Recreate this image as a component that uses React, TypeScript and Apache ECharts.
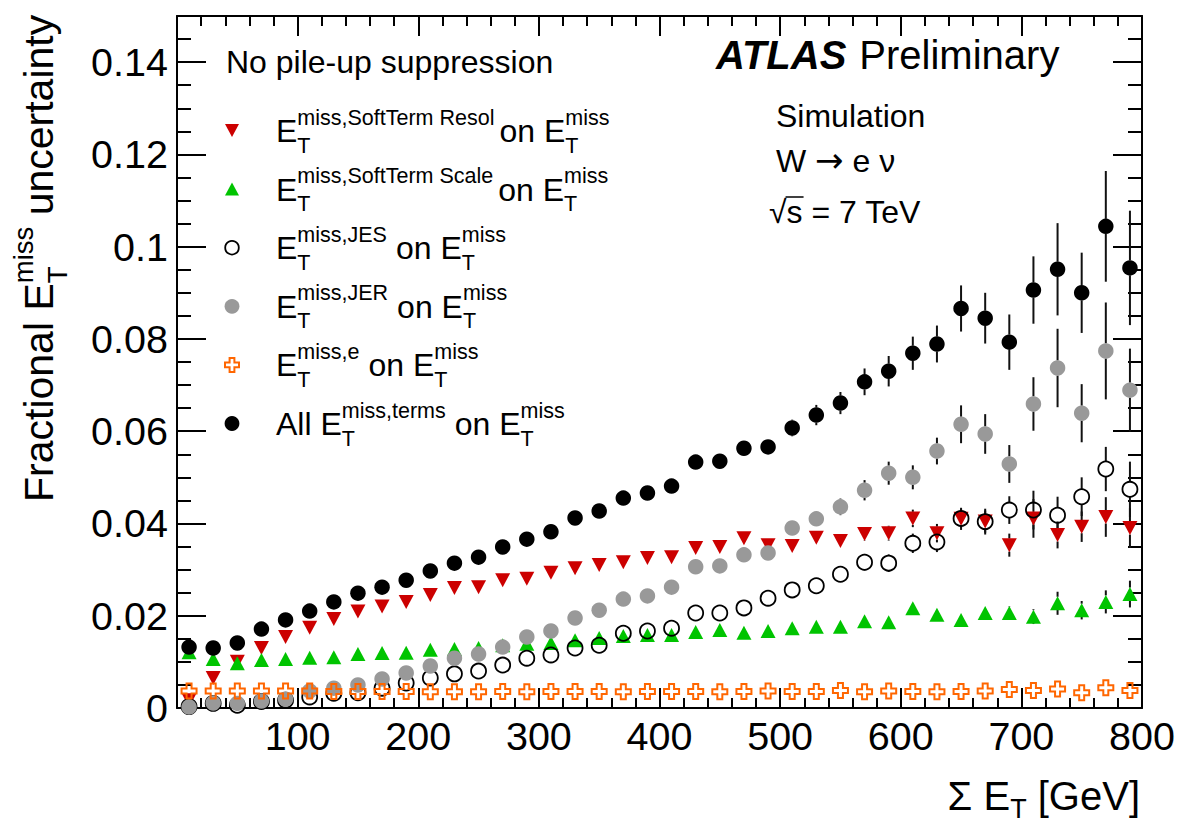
import React, { useEffect, useRef } from 'react';
import * as echarts from 'echarts';

// ---------- data ----------
const sumEt = [10, 30, 50, 70, 90, 110, 130, 150, 170, 190, 210, 230, 250, 270, 290, 310, 330, 350, 370, 390,
  410, 430, 450, 470, 490, 510, 530, 550, 570, 590, 610, 630, 650, 670, 690, 710, 730, 750, 770, 790];

const softResol = [0.0017, 0.0065, 0.0100, 0.0130, 0.0154, 0.0174, 0.0193, 0.0209, 0.0220, 0.0230,
  0.0245, 0.0260, 0.0262, 0.0277, 0.0280, 0.0293, 0.0303, 0.0310, 0.0316, 0.0325,
  0.0327, 0.0347, 0.0349, 0.0368, 0.0353, 0.0351, 0.0369, 0.0362, 0.0377, 0.0379,
  0.0411, 0.0379, 0.0410, 0.0404, 0.0353, 0.0411, 0.0375, 0.0393, 0.0414, 0.0390];
const softResolErr = [0.0003, 0.0003, 0.0003, 0.0004, 0.0004, 0.0004, 0.0005, 0.0005, 0.0005, 0.0006,
  0.0006, 0.0006, 0.0007, 0.0007, 0.0007, 0.0008, 0.0008, 0.0008, 0.0009, 0.0009,
  0.0010, 0.0010, 0.0011, 0.0011, 0.0012, 0.0012, 0.0013, 0.0014, 0.0015, 0.0016,
  0.0019, 0.0020, 0.0024, 0.0028, 0.0025, 0.0042, 0.0029, 0.0033, 0.0043, 0.0043];

const softScale = [0.0121, 0.0106, 0.0097, 0.0104, 0.0106, 0.0109, 0.0110, 0.0117, 0.0119, 0.0120,
  0.0126, 0.0128, 0.0130, 0.0136, 0.0139, 0.0141, 0.0147, 0.0152, 0.0156, 0.0158,
  0.0158, 0.0165, 0.0169, 0.0163, 0.0167, 0.0173, 0.0176, 0.0176, 0.0188, 0.0186,
  0.0216, 0.0202, 0.0191, 0.0206, 0.0206, 0.0198, 0.0227, 0.0212, 0.0230, 0.0247];
const softScaleErr = [0.0003, 0.0003, 0.0003, 0.0003, 0.0004, 0.0004, 0.0004, 0.0004, 0.0005, 0.0005,
  0.0005, 0.0005, 0.0006, 0.0006, 0.0006, 0.0007, 0.0007, 0.0007, 0.0008, 0.0008,
  0.0008, 0.0009, 0.0009, 0.0010, 0.0010, 0.0010, 0.0011, 0.0011, 0.0012, 0.0012,
  0.0013, 0.0013, 0.0014, 0.0014, 0.0015, 0.0016, 0.0025, 0.0020, 0.0025, 0.0029];

const jes = [0.0003, 0.0010, 0.0006, 0.0014, 0.0017, 0.0024, 0.0032, 0.0033, 0.0043, 0.0054,
  0.0065, 0.0074, 0.0080, 0.0093, 0.0108, 0.0115, 0.0130, 0.0136, 0.0162, 0.0167,
  0.0173, 0.0206, 0.0206, 0.0217, 0.0238, 0.0256, 0.0265, 0.0290, 0.0316, 0.0314,
  0.0357, 0.0360, 0.0411, 0.0404, 0.0429, 0.0429, 0.0418, 0.0458, 0.0518, 0.0474];
const jesErr = [0.0003, 0.0003, 0.0003, 0.0003, 0.0004, 0.0004, 0.0004, 0.0004, 0.0005, 0.0005,
  0.0005, 0.0005, 0.0006, 0.0006, 0.0006, 0.0007, 0.0007, 0.0007, 0.0008, 0.0008,
  0.0009, 0.0010, 0.0010, 0.0011, 0.0012, 0.0013, 0.0014, 0.0016, 0.0018, 0.0019,
  0.0021, 0.0022, 0.0020, 0.0024, 0.0030, 0.0042, 0.0040, 0.0042, 0.0048, 0.0060];

const jer = [0.0002, 0.0011, 0.0010, 0.0015, 0.0019, 0.0037, 0.0043, 0.0050, 0.0063, 0.0076,
  0.0091, 0.0108, 0.0117, 0.0132, 0.0154, 0.0167, 0.0195, 0.0212, 0.0236, 0.0243,
  0.0262, 0.0306, 0.0308, 0.0332, 0.0336, 0.0390, 0.0410, 0.0436, 0.0472, 0.0509,
  0.0500, 0.0557, 0.0615, 0.0594, 0.0529, 0.0659, 0.0737, 0.0639, 0.0774, 0.0689];
const jerErr = [0.0003, 0.0003, 0.0003, 0.0003, 0.0003, 0.0003, 0.0003, 0.0003, 0.0003, 0.0003,
  0.0004, 0.0004, 0.0005, 0.0005, 0.0006, 0.0006, 0.0007, 0.0007, 0.0008, 0.0008,
  0.0009, 0.0010, 0.0010, 0.0011, 0.0012, 0.0013, 0.0015, 0.0018, 0.0022, 0.0025,
  0.0026, 0.0029, 0.0041, 0.0043, 0.0041, 0.0058, 0.0085, 0.0063, 0.0105, 0.0090];

const electron = [0.0037, 0.0037, 0.0037, 0.0037, 0.0037, 0.0037, 0.0036, 0.0036, 0.0036, 0.0036,
  0.0035, 0.0035, 0.0035, 0.0036, 0.0035, 0.0036, 0.0036, 0.0036, 0.0035, 0.0036,
  0.0036, 0.0036, 0.0035, 0.0036, 0.0037, 0.0036, 0.0036, 0.0038, 0.0035, 0.0037,
  0.0036, 0.0035, 0.0036, 0.0037, 0.0040, 0.0038, 0.0041, 0.0033, 0.0044, 0.0038];
const electronErr = [0.0002, 0.0002, 0.0002, 0.0002, 0.0002, 0.0002, 0.0002, 0.0002, 0.0002, 0.0002,
  0.0002, 0.0002, 0.0002, 0.0002, 0.0002, 0.0002, 0.0002, 0.0002, 0.0002, 0.0002,
  0.0002, 0.0002, 0.0002, 0.0002, 0.0002, 0.0002, 0.0002, 0.0002, 0.0002, 0.0002,
  0.0003, 0.0003, 0.0003, 0.0003, 0.0003, 0.0003, 0.0004, 0.0004, 0.0005, 0.0005];

const allTerms = [0.0132, 0.0130, 0.0141, 0.0171, 0.0191, 0.0210, 0.0230, 0.0249, 0.0262, 0.0277,
  0.0297, 0.0314, 0.0327, 0.0349, 0.0366, 0.0382, 0.0412, 0.0427, 0.0455, 0.0466,
  0.0481, 0.0533, 0.0535, 0.0563, 0.0566, 0.0607, 0.0635, 0.0661, 0.0707, 0.0730,
  0.0769, 0.0789, 0.0866, 0.0845, 0.0793, 0.0906, 0.0951, 0.0900, 0.1044, 0.0954];
const allTermsErr = [0.0005, 0.0005, 0.0005, 0.0006, 0.0006, 0.0006, 0.0007, 0.0007, 0.0007, 0.0008,
  0.0008, 0.0008, 0.0009, 0.0009, 0.0010, 0.0010, 0.0010, 0.0011, 0.0011, 0.0012,
  0.0012, 0.0013, 0.0013, 0.0014, 0.0015, 0.0018, 0.0022, 0.0024, 0.0029, 0.0033,
  0.0036, 0.0040, 0.0050, 0.0055, 0.0060, 0.0073, 0.0100, 0.0087, 0.0120, 0.0124];

const xTicks = { min: 0, max: 800, step: 100, minorDiv: 5 };
const yTicks = { min: 0, max: 0.15, step: 0.02, minorDiv: 4 };

const seriesNames = ['SoftTerm Resol', 'SoftTerm Scale', 'JES', 'JER', 'e', 'All terms'];

// ---------- styling ----------
const FONT = '"Liberation Sans", Arial, Helvetica, sans-serif';
const SYMFONT = '"DejaVu Sans", sans-serif';
const RED = '#cc0000';
const GREEN = '#00c400';
const GRAY = '#999999';
const ORANGE = '#ff6600';
const CROSS_PATH = 'path://M5,0H10V5H15V10H10V15H5V10H0V5H5Z';

let measureCtx: CanvasRenderingContext2D | null = null;
function measure(text: string, size: number, weight = 'normal', style = 'normal', family = FONT): number {
  if (!measureCtx) measureCtx = document.createElement('canvas').getContext('2d');
  measureCtx!.font = `${style} ${weight} ${size}px ${family}`;
  return measureCtx!.measureText(text).width;
}

function txt(text: string, x: number, baseline: number, size: number, weight = 'normal', style = 'normal', family = FONT) {
  return {
    type: 'text',
    x,
    y: baseline - 0.3465 * size,
    silent: true,
    style: {
      text,
      font: `${style} ${weight} ${size}px ${family}`,
      fill: '#000',
      align: 'left',
      verticalAlign: 'middle',
    },
  };
}

type Seg = { t?: string; sup?: string; sub?: string; gap?: number; weight?: string; style?: string; size?: number; family?: string; dy?: number };

function row(segs: Seg[], x0: number, baseline: number, big: number, small: number, supDy: number, subDy: number) {
  const els: any[] = [];
  let x = x0;
  for (const s of segs) {
    if (s.gap !== undefined) { x += s.gap; continue; }
    if (s.sup !== undefined || s.sub !== undefined) {
      let w = 0;
      if (s.sup) { els.push(txt(s.sup, x, baseline - supDy, small)); w = Math.max(w, measure(s.sup, small)); }
      if (s.sub) { els.push(txt(s.sub, x, baseline + subDy, small)); w = Math.max(w, measure(s.sub, small)); }
      x += w;
      continue;
    }
    const size = s.size ?? big;
    const fam = s.family ?? FONT;
    els.push(txt(s.t!, x, baseline + (s.dy ?? 0), size, s.weight, s.style, fam));
    x += measure(s.t!, size, s.weight, s.style, fam);
  }
  return { els, width: x - x0 };
}

function buildGraphics() {
  const els: any[] = [];
  // Y axis title (rotated)
  const yt = row([
    { t: 'Fractional ' }, { t: 'E' }, { sup: 'miss', sub: 'T' }, { t: ' uncertainty' },
  ], 0, 0, 41, 27.5, 20, 14);
  els.push({ type: 'group', x: 53, y: 502, rotation: Math.PI / 2, children: yt.els });

  // X axis title, right aligned
  const xtSegs: Seg[] = [{ t: 'Σ E' }, { sub: 'T' }, { t: ' [GeV]' }];
  const xtw = row(xtSegs, 0, 0, 40, 27, 0, 8).width;
  els.push(...row(xtSegs, 1140 - xtw, 810, 40, 27, 0, 8).els);

  // ATLAS Preliminary
  els.push(...row([{ t: 'ATLAS', weight: 'bold', style: 'italic' }, { gap: 13 }, { t: 'Preliminary' }], 716, 69, 40, 27, 0, 0).els);
  els.push(txt('Simulation', 776, 127, 32));
  els.push(...row([{ t: 'W ' }, { t: '→', family: SYMFONT, size: 34 }, { t: ' e ν' }], 776, 172, 32, 20, 0, 0).els);
  const sqW = measure('√', 32);
  const sW = measure('s', 32);
  els.push(txt('√s = 7 TeV', 769, 223, 32));
  els.push({ type: 'line', silent: true, shape: { x1: 769 + sqW - 1, y1: 223 - 26, x2: 769 + sqW + sW + 1, y2: 223 - 26 }, style: { stroke: '#000', lineWidth: 1.5 } });

  // Legend
  els.push(txt('No pile-up suppression', 226, 73, 32));
  const B0 = 142, dB = 58.6, mx = 232;
  const legendRows: Seg[][] = [
    [{ t: 'E' }, { sup: 'miss,SoftTerm Resol', sub: 'T' }, { gap: 5 }, { t: 'on E' }, { sup: 'miss', sub: 'T' }],
    [{ t: 'E' }, { sup: 'miss,SoftTerm Scale', sub: 'T' }, { gap: 5 }, { t: 'on E' }, { sup: 'miss', sub: 'T' }],
    [{ t: 'E' }, { sup: 'miss,JES', sub: 'T' }, { gap: 9 }, { t: 'on E' }, { sup: 'miss', sub: 'T' }],
    [{ t: 'E' }, { sup: 'miss,JER', sub: 'T' }, { gap: 9 }, { t: 'on E' }, { sup: 'miss', sub: 'T' }],
    [{ t: 'E' }, { sup: 'miss,e', sub: 'T' }, { gap: 9 }, { t: 'on E' }, { sup: 'miss', sub: 'T' }],
    [{ t: 'All E' }, { sup: 'miss,terms', sub: 'T' }, { gap: 9 }, { t: 'on E' }, { sup: 'miss', sub: 'T' }],
  ];
  legendRows.forEach((segs, i) => {
    const b = B0 + dB * i;
    els.push(...row(segs, 276, b, 32, 21.5, 17, 11).els);
    const cy = b - 11.5;
    if (i === 0) els.push({ type: 'polygon', silent: true, shape: { points: [[mx - 7, cy - 6.5], [mx + 7, cy - 6.5], [mx, cy + 6.5]] }, style: { fill: RED } });
    if (i === 1) els.push({ type: 'polygon', silent: true, shape: { points: [[mx - 7, cy + 6.5], [mx + 7, cy + 6.5], [mx, cy - 6.5]] }, style: { fill: GREEN } });
    if (i === 2) els.push({ type: 'circle', silent: true, shape: { cx: mx, cy, r: 6.8 }, style: { fill: 'none', stroke: '#000', lineWidth: 1.8 } });
    if (i === 3) els.push({ type: 'circle', silent: true, shape: { cx: mx, cy, r: 7.4 }, style: { fill: GRAY } });
    if (i === 4) {
      const a = 2.4, c = 7;
      els.push({ type: 'polygon', silent: true, shape: { points: [
        [mx - a, cy - c], [mx + a, cy - c], [mx + a, cy - a], [mx + c, cy - a], [mx + c, cy + a], [mx + a, cy + a],
        [mx + a, cy + c], [mx - a, cy + c], [mx - a, cy + a], [mx - c, cy + a], [mx - c, cy - a], [mx - a, cy - a]] },
        style: { fill: 'none', stroke: ORANGE, lineWidth: 2 } });
    }
    if (i === 5) els.push({ type: 'circle', silent: true, shape: { cx: mx, cy, r: 7.4 }, style: { fill: '#000' } });
  });
  return els;
}

function errSeries(vals: number[], errs: number[], r: number) {
  return {
    type: 'custom',
    silent: true,
    clip: true,
    data: sumEt.map((x, i) => [x, vals[i], errs[i]]),
    encode: { x: 0, y: 1 },
    renderItem: (params: any, api: any) => {
      const x = api.value(0), y = api.value(1), e = api.value(2);
      const c = api.coord([x, y]);
      const top = api.coord([x, y + e]);
      const bot = api.coord([x, Math.max(0, y - e)]);
      const children: any[] = [];
      if (c[1] - top[1] > r) children.push({ type: 'line', shape: { x1: c[0], y1: top[1], x2: c[0], y2: c[1] - r }, style: { stroke: '#111', lineWidth: 2 } });
      if (bot[1] - c[1] > r) children.push({ type: 'line', shape: { x1: c[0], y1: c[1] + r, x2: c[0], y2: bot[1] }, style: { stroke: '#111', lineWidth: 2 } });
      return { type: 'group', children };
    },
  };
}

function scatter(name: string, vals: number[], extra: any) {
  return {
    type: 'scatter',
    name,
    silent: true,
    data: sumEt.map((x, i) => [x, vals[i]]),
    ...extra,
  };
}

export default function App() {
  const ref = useRef<HTMLDivElement>(null);
  useEffect(() => {
    const chart = echarts.init(ref.current!, undefined, { renderer: 'svg' });
    const tickStyle = { color: '#000', width: 2 };
    const axisLine = { show: true, onZero: false, lineStyle: { color: '#000', width: 2 } };
    const xBase = {
      type: 'value', min: xTicks.min, max: xTicks.max, interval: xTicks.step,
      axisLine, splitLine: { show: false },
      axisTick: { show: true, inside: true, length: 20, lineStyle: tickStyle },
      minorTick: { show: true, splitNumber: xTicks.minorDiv, length: 10, lineStyle: tickStyle },
    };
    const yBase = {
      type: 'value', min: yTicks.min, max: yTicks.max, interval: yTicks.step,
      axisLine, splitLine: { show: false },
      axisTick: { show: true, inside: true, length: 29, lineStyle: tickStyle },
      minorTick: { show: true, splitNumber: yTicks.minorDiv, length: 14, lineStyle: tickStyle },
    };
    const labelFont = { fontSize: 39.5, fontFamily: FONT, color: '#000' };
    const option: any = {
      animation: false,
      backgroundColor: '#fff',
      grid: { left: 177, right: 37, top: 16, bottom: 116, containLabel: false },
      xAxis: [
        { ...xBase, position: 'bottom', axisLabel: { ...labelFont, margin: 8, formatter: (v: number) => (v === 0 ? '' : String(v)) } },
        { ...xBase, position: 'top', axisLabel: { show: false } },
      ],
      yAxis: [
        { ...yBase, position: 'left', axisLabel: { ...labelFont, margin: 9, formatter: (v: number) => (v > 0.1401 ? '' : String(Math.round(v * 100) / 100)) } },
        { ...yBase, position: 'right', axisLabel: { show: false } },
      ],
      series: [
        errSeries(softResol, softResolErr, 6.5),
        scatter(seriesNames[0], softResol, { symbol: 'triangle', symbolRotate: 180, symbolSize: [15, 14], itemStyle: { color: RED, opacity: 1 } }),
        errSeries(softScale, softScaleErr, 6.5),
        scatter(seriesNames[1], softScale, { symbol: 'triangle', symbolSize: [15, 14], itemStyle: { color: GREEN, opacity: 1 } }),
        errSeries(jes, jesErr, 7.5),
        scatter(seriesNames[2], jes, { symbol: 'circle', symbolSize: 15, itemStyle: { color: 'rgba(0,0,0,0)', borderColor: '#000', borderWidth: 1.8, opacity: 1 } }),
        errSeries(jer, jerErr, 7.5),
        scatter(seriesNames[3], jer, { symbol: 'circle', symbolSize: 15.5, itemStyle: { color: GRAY, opacity: 1 } }),
        errSeries(electron, electronErr, 7.5),
        scatter(seriesNames[4], electron, { symbol: CROSS_PATH, symbolSize: 15, itemStyle: { color: 'rgba(0,0,0,0)', borderColor: ORANGE, borderWidth: 2, opacity: 1 } }),
        errSeries(allTerms, allTermsErr, 7.5),
        scatter(seriesNames[5], allTerms, { symbol: 'circle', symbolSize: 15.5, itemStyle: { color: '#000', opacity: 1 } }),
      ],
      graphic: { elements: buildGraphics() },
    };
    chart.setOption(option);
    return () => chart.dispose();
  }, []);
  return <div ref={ref} style={{ position: 'fixed', left: 0, top: 0, width: 1179, height: 824, background: '#fff' }} />;
}
